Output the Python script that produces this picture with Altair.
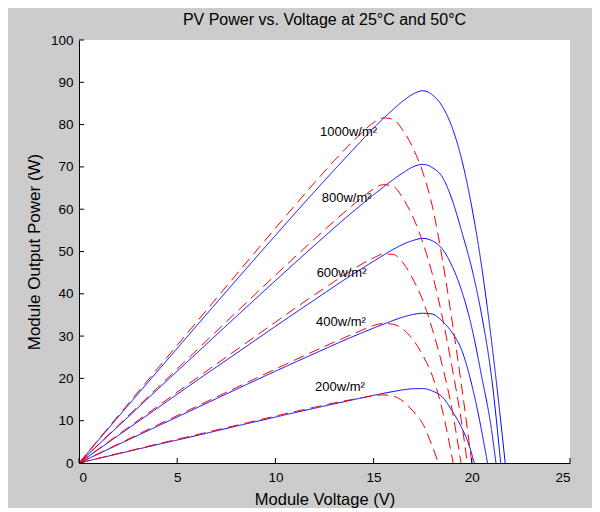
import altair as alt
import pandas as pd

# ---- data ----
# 25 C (blue, solid)
V_B1000 = [0, 2, 4, 6, 8, 10, 12, 14, 15, 16, 16.5, 17, 17.5, 18, 18.5, 19, 19.5, 20, 20.5, 21, 21.4, 21.7]
P_B1000 = [0, 10.9, 21.7, 32.5, 43.2, 53.8, 64.2, 74.3, 79.2, 83.6, 85.6, 87.2, 88.0, 87.0, 84.3, 79.3, 71.5, 60.5, 46.5, 29, 13, 0]
V_B800 = [0, 2, 4, 6, 8, 10, 12, 14, 15, 16, 16.5, 17, 17.5, 18, 18.5, 19, 19.5, 20, 20.5, 21, 21.47]
P_B800 = [0, 8.7, 17.4, 26, 34.6, 43.1, 51.5, 59.6, 63.4, 67, 68.6, 70, 70.6, 69.8, 67.6, 62.2, 54.5, 46.0, 35.0, 20.5, 0]
V_B600 = [0, 2, 4, 6, 8, 10, 12, 14, 15, 16, 16.5, 17, 17.5, 18, 18.5, 19, 19.5, 20, 20.5, 21, 21.23]
P_B600 = [0, 6.5, 13.0, 19.5, 25.9, 32.3, 38.6, 44.8, 47.7, 50.5, 51.7, 52.6, 53.1, 52.5, 50.6, 46.5, 40.5, 32, 20.5, 8, 0]
V_B400 = [0, 2, 4, 6, 8, 10, 12, 14, 15, 16, 16.5, 17, 17.5, 18, 18.5, 19, 19.5, 20, 20.4, 20.8]
P_B400 = [0, 4.36, 8.7, 13.05, 17.4, 21.7, 25.9, 30, 31.9, 33.7, 34.5, 35.1, 35.4, 35.2, 33.5, 30.8, 26.5, 18.5, 10, 0]
V_B200 = [0, 2, 4, 6, 8, 10, 12, 14, 15, 16, 16.5, 17, 17.5, 18, 18.5, 19, 19.5, 19.8, 20.13]
P_B200 = [0, 2.18, 4.36, 6.5, 8.7, 10.85, 12.95, 15.0, 16.0, 16.9, 17.3, 17.55, 17.6, 17.0, 15.6, 12.3, 8.2, 5, 0]

# 50 C (red, dashed)
V_R1000 = [0, 2, 4, 6, 8, 10, 12, 13, 14, 14.5, 15, 15.5, 16, 16.5, 17, 17.5, 18, 18.5, 19, 19.5, 20]
P_R1000 = [0, 11.2, 22.3, 33.4, 44.5, 55.5, 66.3, 71.5, 76.3, 78.5, 80.5, 81.6, 81.2, 78.6, 74.5, 68.8, 60.5, 48.2, 33.5, 17.5, 0]
V_R800 = [0, 2, 4, 6, 8, 10, 12, 13, 14, 14.5, 15, 15.5, 16, 16.5, 17, 17.5, 18, 18.5, 19, 19.5, 19.77]
P_R800 = [0, 8.9, 17.8, 26.7, 35.6, 44.4, 53.0, 57.2, 61.2, 63.1, 64.8, 65.8, 65.4, 62.5, 58.2, 52.2, 44.5, 34.5, 22.5, 9, 0]
V_R600 = [0, 2, 4, 6, 8, 10, 12, 13, 14, 14.5, 15, 15.5, 16, 16.5, 17, 17.5, 18, 18.5, 19, 19.45]
P_R600 = [0, 6.7, 13.4, 20.1, 26.7, 33.3, 39.8, 42.9, 45.9, 47.3, 48.5, 49.4, 49.3, 47.3, 43.5, 38.5, 31.5, 23, 12.5, 0]
V_R400 = [0, 2, 4, 6, 8, 10, 12, 13, 14, 14.5, 15, 15.5, 16, 16.5, 17, 17.5, 18, 18.5, 19.05]
P_R400 = [0, 4.5, 9.0, 13.4, 17.8, 22.2, 26.5, 28.6, 30.6, 31.6, 32.5, 33.0, 32.8, 31.6, 29.2, 25.5, 20.5, 12.5, 0]
V_R200 = [0, 2, 4, 6, 8, 10, 12, 13, 14, 14.5, 15, 15.5, 16, 16.5, 17, 17.5, 18, 18.3]
P_R200 = [0, 2.25, 4.5, 6.7, 8.9, 11.1, 13.2, 14.2, 15.1, 15.5, 15.9, 16.1, 15.8, 14.6, 12.3, 9.3, 3.8, 0]

LABEL_TEXT = ["1000w/m²", "800w/m²", "600w/m²", "400w/m²", "200w/m²"]
LABEL_V = [12.27, 12.36, 12.1, 12.07, 12.02]
LABEL_P = [78.3, 62.6, 45.0, 33.4, 18.0]

X_TICKS = [0, 5, 10, 15, 20, 25]
Y_TICKS = [0, 10, 20, 30, 40, 50, 60, 70, 80, 90, 100]

# ---- build long table ----
series = [
    ("25", "1000", V_B1000, P_B1000), ("25", "800", V_B800, P_B800),
    ("25", "600", V_B600, P_B600), ("25", "400", V_B400, P_B400),
    ("25", "200", V_B200, P_B200),
    ("50", "1000", V_R1000, P_R1000), ("50", "800", V_R800, P_R800),
    ("50", "600", V_R600, P_R600), ("50", "400", V_R400, P_R400),
    ("50", "200", V_R200, P_R200),
]
rows = []
for order, (t, irr, vs, ps) in enumerate(series):
    for v, p in zip(vs, ps):
        rows.append({"V": v, "P": p, "temp": t, "irr": irr, "key": f"{t}_{irr}", "ord": order})
df = pd.DataFrame(rows)

W, H = 491, 423
FONT = "Liberation Sans"

xs = alt.Scale(domain=[0, 25], nice=False, zero=False)
ys = alt.Scale(domain=[0, 100], nice=False, zero=False)

lines = alt.Chart(df).mark_line(strokeWidth=1, interpolate="monotone", clip=True).encode(
    x=alt.X("V:Q", scale=xs, axis=alt.Axis(
        values=X_TICKS, title="Module Voltage (V)", ticks=False, tickSize=0,
        labelPadding=7, domainColor="black", labelColor="black",
        titleY=36, titleBaseline="middle", titleFontWeight="normal", titleColor="black",
        grid=False, labelFont=FONT, titleFont=FONT, labelFontSize=13.5, titleFontSize=16.5)),
    y=alt.Y("P:Q", scale=ys, axis=alt.Axis(
        values=Y_TICKS, title="Module Output Power (W)", ticks=False, tickSize=0,
        labelPadding=6, domainColor="black", labelColor="black",
        titleX=-45, titleBaseline="middle", titleFontWeight="normal", titleColor="black",
        grid=False, labelFont=FONT, titleFont=FONT, labelFontSize=13.5, titleFontSize=17)),
    color=alt.Color("temp:N", scale=alt.Scale(domain=["25", "50"], range=["#0000ff", "#ff0000"]), legend=None),
    strokeDash=alt.StrokeDash("temp:N", scale=alt.Scale(domain=["25", "50"], range=[[1, 0], [11, 6]]), legend=None),
    detail="key:N",
    order="ord:Q",
)

xt = pd.DataFrame({"t": X_TICKS})
yt = pd.DataFrame({"t": Y_TICKS})
xticks = alt.Chart(xt).mark_rule(color="black", strokeWidth=1).encode(
    x=alt.X("t:Q", scale=xs), y=alt.value(H), y2=alt.value(H - 5))
yticks = alt.Chart(yt).mark_rule(color="black", strokeWidth=1).encode(
    y=alt.Y("t:Q", scale=ys), x=alt.value(0), x2=alt.value(5))

ldf = pd.DataFrame({"text": LABEL_TEXT, "V": LABEL_V, "P": LABEL_P})
labels = alt.Chart(ldf).mark_text(align="left", baseline="middle", font=FONT, fontSize=13, color="black").encode(
    x=alt.X("V:Q", scale=xs), y=alt.Y("P:Q", scale=ys), text="text:N")

chart = alt.layer(lines, xticks, yticks, labels).properties(
    width=W, height=H,
    title=alt.TitleParams("PV Power vs. Voltage at 25°C and 50°C", font=FONT, fontSize=16,
                          fontWeight="normal", color="black", offset=5),
    autosize=alt.AutoSizeParams(type="none"),
    padding={"left": 71, "top": 32, "right": 22, "bottom": 45},
    background="#cccccc",
).configure_view(fill="white", stroke=None)

chart.save("out.html", embed_options={"renderer": "svg", "actions": False})
